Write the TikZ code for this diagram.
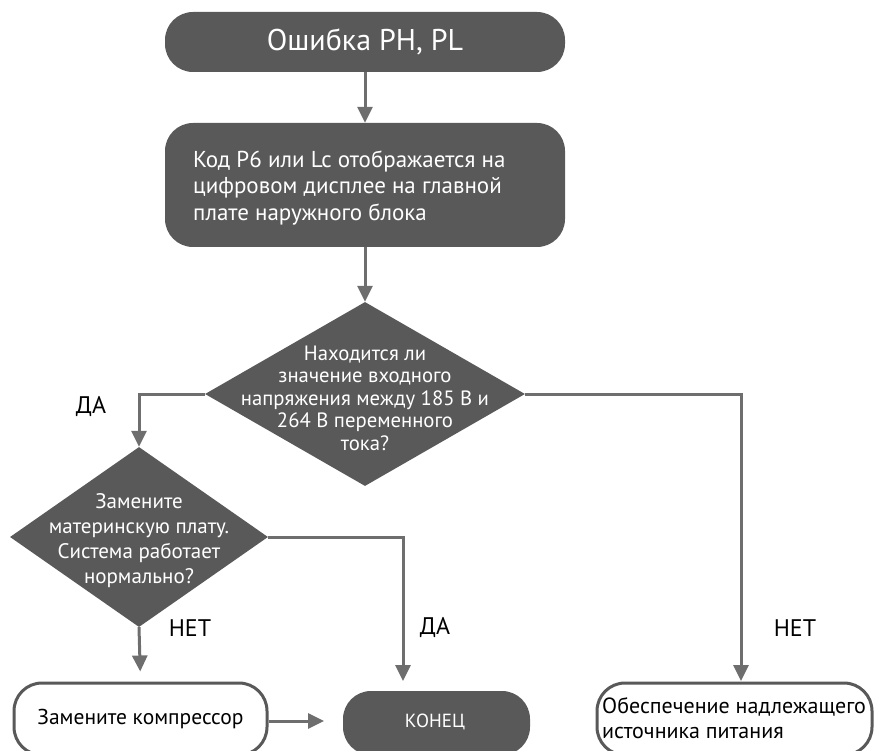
\documentclass[tikz,border=0pt]{standalone}
\usepackage{fontspec}
\setmainfont{PT Sans}
\usetikzlibrary{shapes.geometric,arrows.meta}
\definecolor{boxdark}{HTML}{595959}
\definecolor{linegray}{HTML}{6E6E6E}
\newcommand{\fs}[2]{\fontsize{#1}{#2}\selectfont}
\tikzset{
  darkbox/.style={rectangle, rounded corners=28pt, fill=boxdark, text=white, inner sep=0pt},
  whitebox/.style={rectangle, rounded corners=28pt, draw=boxdark, line width=3pt, fill=white, text=black, inner sep=0pt},
  decision/.style={diamond, fill=boxdark, inner sep=0pt},
  dtext/.style={text=white, align=center, inner sep=0pt},
  conn/.style={draw=linegray, line width=3pt, -{Triangle[length=16pt,width=15pt]}},
  lbl/.style={text=black, inner sep=0pt, font=\fs{24}{28}},
}
\begin{document}
\begin{tikzpicture}[x=1pt,y=-1pt]
\useasboundingbox (0,0) rectangle (875,751);
\clip (0,0) rectangle (875,751);
% boxes
\node[darkbox, minimum width=400pt, minimum height=60pt, font=\fs{30}{34}] (start) at (365,42) {Ошибка PH, PL};
\node[darkbox, minimum width=400pt, minimum height=124pt] (code) at (365,185) {};
\node[anchor=west, text=white, align=left, inner sep=0pt, font=\fs{23}{26.5}] (codet) at (193,188)
  {Код P6 или Lc отображается на\\цифровом дисплее на главной\\плате наружного блока};
\node[decision, minimum width=320pt, minimum height=184pt] (d1) at (365,394) {};
\node[dtext, font=\fs{20.7}{22.5}] (d1t) at (365,398) {Находится ли\\значение входного\\напряжения между 185 В и\\264 В переменного\\тока?};
\node[decision, minimum width=258pt, minimum height=180pt] (d2) at (139,537) {};
\node[dtext, font=\fs{21}{25}] (d2t) at (139,541) {Замените\\материнскую плату.\\Система работает\\нормально?};
\node[whitebox, minimum width=253pt, minimum height=72pt, font=\fs{21.5}{25}] (comp) at (140.5,719) {Замените компрессор};
\node[darkbox, minimum width=187pt, minimum height=64pt] (end) at (436.5,723) {};
\node[text=white, inner sep=0pt, font=\fs{19}{22}] (endt) at (435,722) {КОНЕЦ};
\node[whitebox, minimum width=275pt, minimum height=72pt] (power) at (734.5,719) {};
\node[anchor=west, text=black, align=left, inner sep=0pt, font=\fs{22}{25}] (powert) at (602,718)
  {Обеспечение надлежащего\\источника питания};
% free ends
\coordinate (endin) at (403,681);
\coordinate (powin) at (741,681);
\coordinate (compout) at (324,721);
% connectors
\draw[conn] (start.south) -- (code.north);
\draw[conn] (code.south) -- (d1.north);
\draw[conn] (d1.west) -| (d2.north);
\draw[conn, shorten >=10pt] (d2.south) -- (comp.north);
\draw[conn] (d2.east) -| (endin);
\draw[conn] (d1.east) -| (powin);
\draw[conn] (comp.east |- compout) -- (compout);
% labels
\node[lbl] (da1) at (91,407) {ДА};
\node[lbl] (net1) at (190,628) {НЕТ};
\node[lbl] (da2) at (435,628) {ДА};
\node[lbl] (net2) at (795,628) {НЕТ};
\end{tikzpicture}
\end{document}
